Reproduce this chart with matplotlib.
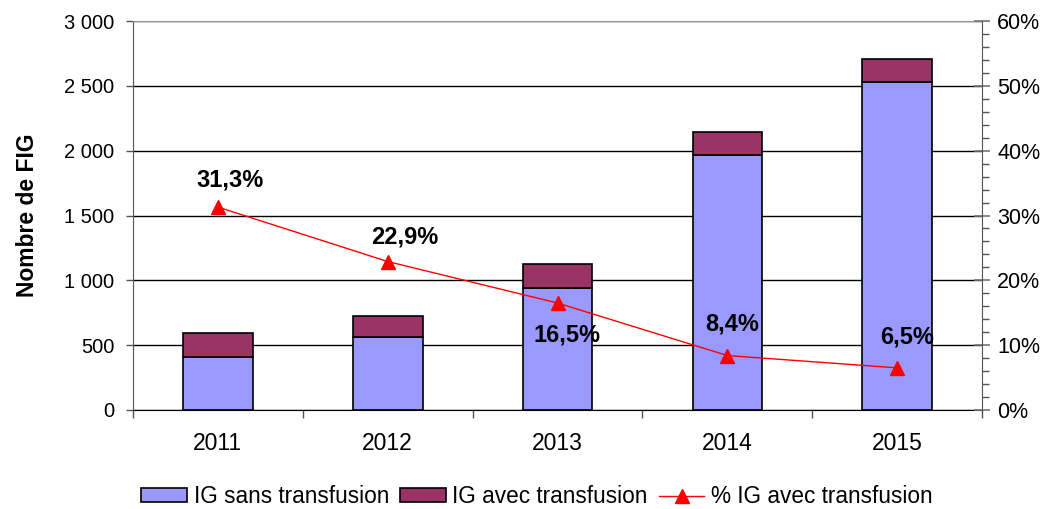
import matplotlib.pyplot as plt
import numpy as np
from matplotlib.ticker import FuncFormatter, MultipleLocator
from matplotlib.lines import Line2D
from matplotlib.patches import Patch

plt.rcParams['font.family'] = ['Liberation Sans', 'DejaVu Sans']

years = ['2011', '2012', '2013', '2014', '2015']
sans_transfusion = [406, 561, 939, 1966, 2528]
avec_transfusion = [185, 167, 185, 180, 176]
pct_transfusion = [31.3, 22.9, 16.5, 8.4, 6.5]
# label offsets (pixels) for the percentage annotations
label_offsets = [(12, 27), (17, 25), (9, -32), (5, 32), (10, 31)]

blue = '#9999FF'
maroon = '#993366'
red = '#FF0000'

fig = plt.figure(figsize=(10.47, 5.09), dpi=100)
ax = fig.add_axes([0.127, 0.1945, 0.811, 0.7642])
x = np.arange(len(years))
w = 0.41

ax.bar(x, sans_transfusion, w, color=blue, edgecolor='black', linewidth=1.2, zorder=3)
ax.bar(x, avec_transfusion, w, bottom=sans_transfusion, color=maroon,
       edgecolor='black', linewidth=1.2, zorder=3)

ax.set_xlim(-0.5, len(years) - 0.5)
ax.set_ylim(0, 3000)
ax.yaxis.set_major_locator(MultipleLocator(500))
ax.yaxis.set_major_formatter(FuncFormatter(lambda v, p: f'{int(v):,}'.replace(',', ' ')))
ax.grid(axis='y', color='black', linewidth=1, zorder=0)
ax.set_axisbelow(True)

ax.set_xticks(x)
ax.set_xticklabels(years)
ax.set_xticks(np.arange(-0.5, len(years)), minor=True)
ax.tick_params(axis='x', which='major', length=0, pad=16, labelsize=16.5)
ax.tick_params(axis='x', which='minor', length=6, width=1, color='#555555', direction='out')
ax.tick_params(axis='y', length=5, width=1, color='#555555', labelsize=14.5, pad=8.5)
ax.set_ylabel('Nombre de FIG', fontsize=16.5, fontweight='bold', labelpad=18)

ax.spines['top'].set_color('#999999')
ax.spines['left'].set_color('#555555')
ax.spines['right'].set_visible(False)
ax.spines['bottom'].set_color('black')

ax2 = ax.twinx()
ax2.set_ylim(0, 60)
ax2.plot(x, pct_transfusion, color=red, linewidth=1, marker='^', markersize=10, zorder=4)
ax2.yaxis.set_major_locator(MultipleLocator(10))
ax2.yaxis.set_minor_locator(MultipleLocator(2))
ax2.yaxis.set_major_formatter(FuncFormatter(lambda v, p: f'{int(v)}%'))
ax2.tick_params(axis='y', which='major', length=12, width=1.2, color='#777777',
                direction='inout', labelsize=15.5, pad=5)
ax2.tick_params(axis='y', which='minor', length=5, width=1, color='#555555', direction='out')
ax2.spines['right'].set_color('#555555')
ax2.spines['top'].set_visible(False)
ax2.spines['left'].set_visible(False)
ax2.spines['bottom'].set_visible(False)

for xi, p, off in zip(x, pct_transfusion, label_offsets):
    ax2.annotate(f'{p:.1f}%'.replace('.', ','), (xi, p), xytext=off,
                 textcoords='offset pixels', ha='center', va='center',
                 fontsize=17, fontweight='bold', zorder=5)

handles = [
    Patch(facecolor=blue, edgecolor='black', linewidth=1.2, label='IG sans transfusion'),
    Patch(facecolor=maroon, edgecolor='black', linewidth=1.2, label='IG avec transfusion'),
    Line2D([0], [0], color=red, linewidth=1, marker='^', markersize=10,
           label='% IG avec transfusion'),
]
fig.legend(handles=handles, loc='center', bbox_to_anchor=(0.513, 0.024), ncol=3,
           frameon=False, fontsize=16.3, handlelength=2.0, handleheight=0.6,
           handletextpad=0.3, columnspacing=0.5)

fig.savefig('out.png', dpi=100)
